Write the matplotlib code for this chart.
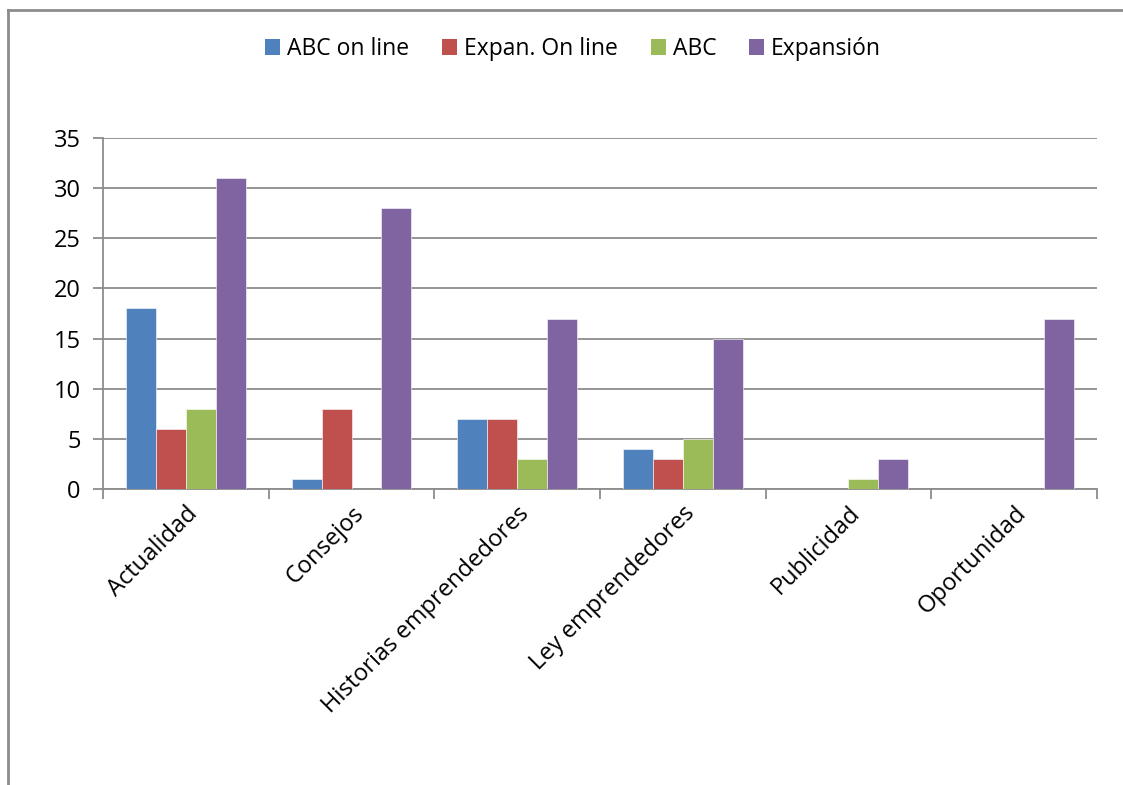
import matplotlib
matplotlib.use('Agg')
import matplotlib.pyplot as plt
from matplotlib.lines import Line2D
from matplotlib.patches import Patch
import numpy as np

plt.rcParams['font.family'] = ['Open Sans', 'DejaVu Sans']

categories = ['Actualidad', 'Consejos', 'Historias emprendedores',
              'Ley emprendedores', 'Publicidad', 'Oportunidad']
series_names = ['ABC on line', 'Expan. On line', 'ABC', 'Expansión']
abc_online = [18, 1, 7, 4, 0, 0]
expan_online = [6, 8, 7, 3, 0, 0]
abc = [8, 0, 3, 5, 1, 0]
expansion = [31, 28, 17, 15, 3, 17]
colors = ['#4F81BD', '#C0504D', '#9BBB59', '#8064A2']

W, H = 1123, 785
fig = plt.figure(figsize=(W / 100, H / 100), dpi=100)
ax = fig.add_axes([103 / W, 1 - 489 / H, (1097 - 103) / W, (489 - 138) / H])

# outer chart border (cropped at right and bottom)
fig.add_artist(Line2D([7.5 / W, 7.5 / W], [0, 1 - 9.5 / H], transform=fig.transFigure,
                      color='#8c8c8c', lw=2))
fig.add_artist(Line2D([7.5 / W, 1], [1 - 9.5 / H, 1 - 9.5 / H], transform=fig.transFigure,
                      color='#8c8c8c', lw=2))

x = np.arange(len(categories))
width = 0.181
data = [abc_online, expan_online, abc, expansion]
for i, (vals, c) in enumerate(zip(data, colors)):
    ax.bar(x + (i - 1.5) * width, vals, width, color=c, edgecolor='white',
           linewidth=0.4, zorder=3)

ax.set_xlim(-0.5, len(categories) - 0.5)
ax.set_ylim(0, 35)
ax.set_yticks(range(0, 36, 5))
ax.yaxis.grid(True, color='#8c8c8c', lw=1.3, zorder=0)
ax.tick_params(axis='y', length=7, width=1.3, color='#8c8c8c', labelsize=17, pad=9)

ax.set_xticks(np.arange(-0.5, len(categories), 1.0))
ax.set_xticklabels([])
ax.set_xticks(x, minor=True)
ax.set_xticklabels(categories, minor=True, rotation=45, ha='right', va='top',
                   rotation_mode='anchor', fontsize=17)
ax.tick_params(axis='x', which='major', length=7, width=1.3, color='#8c8c8c')
ax.tick_params(axis='x', which='minor', length=0, pad=9)

for s in ['top', 'right']:
    ax.spines[s].set_visible(False)
for s in ['left', 'bottom']:
    ax.spines[s].set_color('#8c8c8c')
    ax.spines[s].set_linewidth(1.3)

handles = [Patch(facecolor=c, edgecolor='none') for c in colors]
fig.legend(handles, series_names, loc='center', bbox_to_anchor=(573 / W, 1 - 49 / H),
           ncol=4, frameon=False, fontsize=16.5, handlelength=0.65, handleheight=0.65,
           handletextpad=0.3, columnspacing=1.45)

fig.savefig('out.png', dpi=100, facecolor='white')
